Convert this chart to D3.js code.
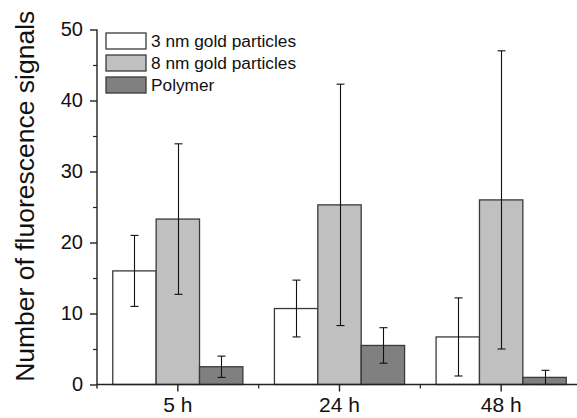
<!DOCTYPE html>
<html><head><meta charset="utf-8">
<script src="https://cdn.jsdelivr.net/npm/d3@7"></script>
<style>
html,body{margin:0;padding:0;background:#fff;}
svg{display:block;font-family:"Liberation Sans",Arial,sans-serif;}
</style></head>
<body>
<svg id="chart" width="577" height="418"></svg>
<script>
const categories = ["5 h", "24 h", "48 h"];
const seriesNames = ["3 nm gold particles", "8 nm gold particles", "Polymer"];
const gold3Mean = [16.0, 10.7, 6.7];
const gold3Err = [5.0, 4.0, 5.5];
const gold8Mean = [23.3, 25.3, 26.0];
const gold8Err = [10.6, 17.0, 21.0];
const polymerMean = [2.5, 5.5, 1.0];
const polymerErr = [1.5, 2.5, 1.0];
const yTicks = [0, 10, 20, 30, 40, 50];
const yMinorTicks = [5, 15, 25, 35, 45];
const yTitle = "Number of fluorescence signals";
const fills = ["#ffffff", "#c0c0c0", "#808080"];

const means = [gold3Mean, gold8Mean, polymerMean];
const errs = [gold3Err, gold8Err, polymerErr];

const svg = d3.select("#chart");
const x0 = 97, x1 = 582, yBottom = 384.5, yTop = 29.5;

const x = d3.scaleBand().domain(categories).range([x0, x1]).paddingInner(0.195).paddingOuter(0.0975);
const xs = d3.scaleBand().domain(seriesNames).range([0, x.bandwidth()]);
const y = d3.scaleLinear().domain([0, 50]).range([yBottom, yTop]);

const data = [];
categories.forEach((c, i) => seriesNames.forEach((s, j) => {
  data.push({cat: c, series: s, j, v: means[j][i], e: errs[j][i]});
}));

// bars
svg.append("g").selectAll("rect").data(data).join("rect")
  .attr("x", d => x(d.cat) + xs(d.series))
  .attr("y", d => y(d.v))
  .attr("width", xs.bandwidth())
  .attr("height", d => y(0) - y(d.v))
  .attr("fill", d => fills[d.j])
  .attr("stroke", "#3a3a3a")
  .attr("stroke-width", 1.3);

// error bars
const eg = svg.append("g").attr("stroke", "#111").attr("stroke-width", 1.1);
data.forEach(d => {
  const cx = Math.round(x(d.cat) + xs(d.series) + xs.bandwidth() / 2) + 0.5;
  const lo = Math.max(0, d.v - d.e), hi = d.v + d.e;
  eg.append("line").attr("x1", cx).attr("x2", cx).attr("y1", y(lo)).attr("y2", y(hi));
  [lo, hi].forEach(t => eg.append("line").attr("x1", cx - 4).attr("x2", cx + 4).attr("y1", y(t)).attr("y2", y(t)));
});

// y axis
const yAxis = svg.append("g").attr("transform", `translate(${x0},0)`)
  .call(d3.axisLeft(y).tickValues(yTicks).tickSize(7).tickPadding(7).tickSizeOuter(0));
yAxis.selectAll("text").attr("font-size", 20).attr("fill", "#111").attr("font-family", "Liberation Sans, Arial, sans-serif");
yAxis.selectAll("line,path").attr("stroke", "#222").attr("stroke-width", 1.4);
yAxis.select("path").attr("d", `M0,${yBottom + 4}V${yTop}`);
svg.append("g").attr("transform", `translate(${x0},0)`)
  .call(d3.axisLeft(y).tickValues(yMinorTicks).tickSize(4).tickFormat(""))
  .call(g => g.select("path").remove())
  .selectAll("line").attr("stroke", "#222").attr("stroke-width", 1.2);

// x axis
const xAxis = svg.append("g").attr("transform", `translate(0,${yBottom})`)
  .call(d3.axisBottom(x).tickSize(7).tickPadding(6).tickSizeOuter(0));
xAxis.selectAll("text").attr("font-size", 21).attr("fill", "#111").attr("font-family", "Liberation Sans, Arial, sans-serif");
xAxis.selectAll("line,path").attr("stroke", "#222").attr("stroke-width", 1.4);
xAxis.select("path").attr("d", `M${x0},0H${x1}`);
// minor x ticks at group boundaries
const boundaries = categories.slice(1).map(c => x(c) - x.step() * x.paddingInner() / 2);
svg.append("g").selectAll("line").data(boundaries).join("line")
  .attr("x1", d => d).attr("x2", d => d)
  .attr("y1", yBottom).attr("y2", yBottom + 4)
  .attr("stroke", "#222").attr("stroke-width", 1.2);

// y title
svg.append("text")
  .attr("transform", `translate(34,${(yBottom + 8) / 2}) rotate(-90)`)
  .attr("text-anchor", "middle")
  .attr("font-size", 26.5)
  .attr("fill", "#111")
  .text(yTitle);

// legend
const lg = svg.append("g").attr("transform", "translate(106,33)");
seriesNames.forEach((s, i) => {
  const row = lg.append("g").attr("transform", `translate(0,${i * 22})`);
  row.append("rect").attr("width", 40).attr("height", 16)
    .attr("fill", fills[i]).attr("stroke", "#3a3a3a").attr("stroke-width", 1.3);
  row.append("text").attr("x", 45).attr("y", 8).attr("dy", "0.35em")
    .attr("font-size", 17.3).attr("fill", "#111").text(s);
});
</script>
</body></html>
